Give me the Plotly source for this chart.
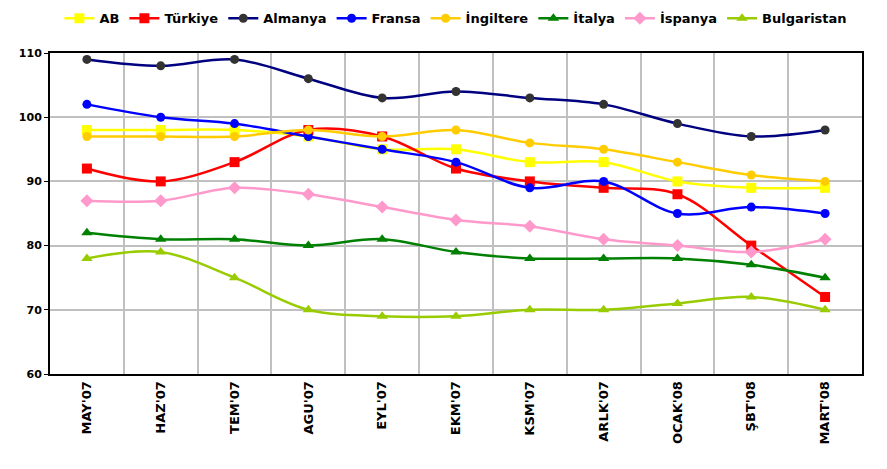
import plotly.graph_objects as go

months = ["MAY'07", "HAZ'07", "TEM'07", "AGU'07", "EYL'07", "EKM'07",
          "KSM'07", "ARLK'07", "OCAK'08", "ŞBT'08", "MART'08"]

ab = [98, 98, 98, 97, 95, 95, 93, 93, 90, 89, 89]
turkiye = [92, 90, 93, 98, 97, 92, 90, 89, 88, 80, 72]
almanya = [109, 108, 109, 106, 103, 104, 103, 102, 99, 97, 98]
fransa = [102, 100, 99, 97, 95, 93, 89, 90, 85, 86, 85]
ingiltere = [97, 97, 97, 98, 97, 98, 96, 95, 93, 91, 90]
italya = [82, 81, 81, 80, 81, 79, 78, 78, 78, 77, 75]
ispanya = [87, 87, 89, 88, 86, 84, 83, 81, 80, 79, 81]
bulgaristan = [78, 79, 75, 70, 69, 69, 70, 70, 71, 72, 70]

series = [
    ("AB", ab, "#FFFF00", "#FFFF00", "square", 10),
    ("Türkiye", turkiye, "#FF0000", "#FF0000", "square", 10),
    ("Almanya", almanya, "#000080", "#333333", "circle", 9),
    ("Fransa", fransa, "#0000FF", "#0000FF", "circle", 9),
    ("İngiltere", ingiltere, "#FFCC00", "#FFCC00", "circle", 9),
    ("İtalya", italya, "#008000", "#008000", "triangle-up", 10),
    ("İspanya", ispanya, "#FF99CC", "#FF99CC", "diamond", 10),
    ("Bulgaristan", bulgaristan, "#99CC00", "#99CC00", "triangle-up", 10),
]

fig = go.Figure()
for name, vals, lc, mc, sym, sz in series:
    fig.add_trace(go.Scatter(
        x=months, y=vals, name=name, mode="lines+markers",
        line=dict(color=lc, width=2.5, shape="spline", smoothing=1),
        marker=dict(color=mc, symbol=sym, size=sz, line=dict(width=0)),
    ))

font_family = "DejaVu Sans"
fig.update_layout(
    width=887, height=469,
    margin=dict(l=50, r=25, t=53, b=95, autoexpand=False),
    paper_bgcolor="white", plot_bgcolor="white",
    font=dict(family=font_family, color="black", size=11, weight="bold"),
    legend=dict(orientation="h", x=0.514, xanchor="center", xref="container",
                y=0.993, yanchor="top", yref="container",
                font=dict(size=13, family=font_family, weight="bold"),
                itemwidth=30, tracegroupgap=0, bgcolor="rgba(0,0,0,0)"),
    showlegend=True,
)
fig.update_xaxes(
    type="category", tickangle=-90, tickson="boundaries",
    showgrid=True, gridcolor="#C0C0C0", gridwidth=1.5,
    showline=True, linecolor="black", linewidth=2, mirror=True,
    ticks="", tickfont=dict(size=13, family=font_family, weight="bold"),
    range=[-0.5, 10.5],
)
fig.update_yaxes(
    range=[60, 110], dtick=10, tick0=60,
    showgrid=True, gridcolor="#C0C0C0", gridwidth=1.5,
    showline=True, linecolor="black", linewidth=2, mirror=True,
    ticks="outside", ticklen=4, tickcolor="black",
    tickfont=dict(size=11, family=font_family, weight="bold"),
    zeroline=False,
)

fig.write_html("out.html",
               config={"displayModeBar": False},
               post_script="document.body.style.margin='0';document.body.style.overflow='hidden';")
